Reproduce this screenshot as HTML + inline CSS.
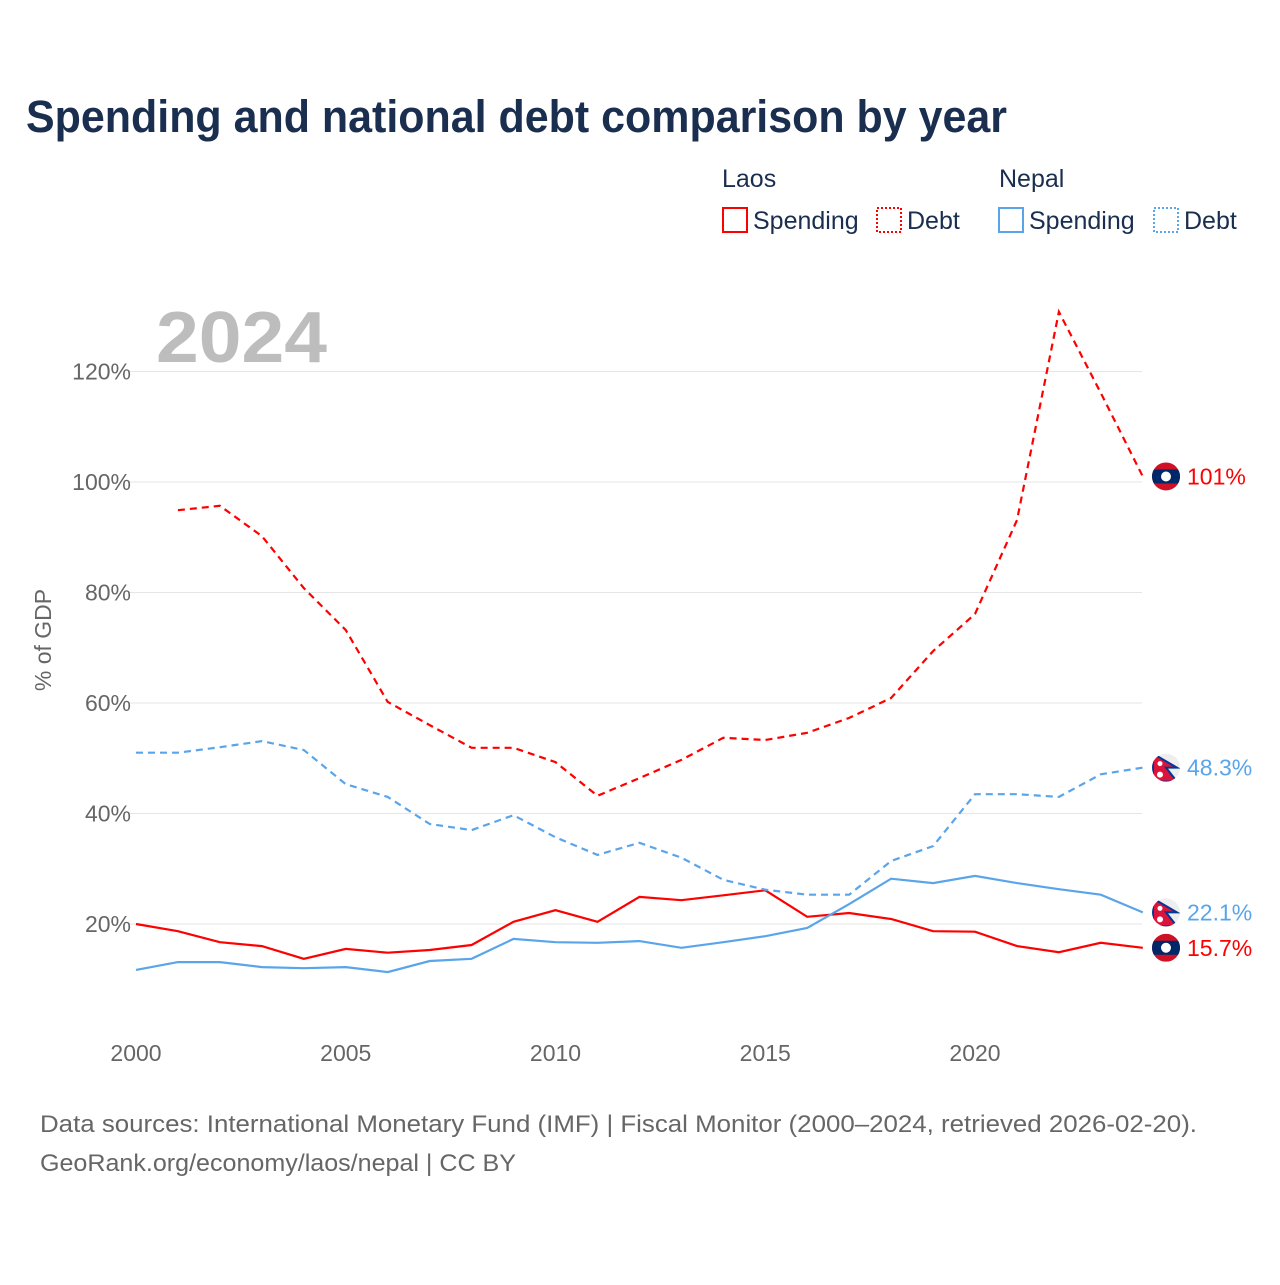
<!DOCTYPE html>
<html><head><meta charset="utf-8"><style>
body{margin:0;background:#fff;font-family:"Liberation Sans",sans-serif;}
svg text{font-family:"Liberation Sans",sans-serif;}
</style></head><body>
<svg id="chart" width="1280" height="1280" viewBox="0 0 1280 1280" xmlns="http://www.w3.org/2000/svg">
<defs><clipPath id="fc"><circle cx="0" cy="0" r="14"/></clipPath></defs>
<rect width="1280" height="1280" fill="#fff"/>
<text x="26" y="132" font-size="45" font-weight="bold" fill="#1a2e4f" textLength="981" lengthAdjust="spacingAndGlyphs">Spending and national debt comparison by year</text>
<g font-size="25" fill="#1a2e4f">
<text x="722" y="187" fill="#1a2e4f">Laos</text>
<text x="999" y="187" fill="#1a2e4f">Nepal</text>
<g><rect x="723" y="208" width="24" height="24" fill="none" stroke="#f00" stroke-width="2"/><text x="753" y="229" fill="#1a2e4f">Spending</text></g>
<g><rect x="877" y="208" width="24" height="24" fill="none" stroke="#f00" stroke-width="2" stroke-dasharray="2,2"/><text x="907" y="229" fill="#1a2e4f">Debt</text></g>
<g><rect x="999" y="208" width="24" height="24" fill="none" stroke="#5aa5ea" stroke-width="2"/><text x="1029" y="229" fill="#1a2e4f">Spending</text></g>
<g><rect x="1154" y="208" width="24" height="24" fill="none" stroke="#5aa5ea" stroke-width="2" stroke-dasharray="2,2"/><text x="1184" y="229" fill="#1a2e4f">Debt</text></g>
</g>
<text x="156" y="362" font-size="72" font-weight="bold" fill="#bdbdbd" textLength="171" lengthAdjust="spacingAndGlyphs">2024</text>
<text transform="translate(51,640) rotate(-90)" text-anchor="middle" font-size="23" fill="#666">% of GDP</text>
<g id="grid"></g><g id="series"></g><g id="labels"></g>
<g font-size="24" fill="#666">
<text x="40" y="1132" textLength="1157" lengthAdjust="spacingAndGlyphs">Data sources: International Monetary Fund (IMF) | Fiscal Monitor (2000–2024, retrieved 2026-02-20).</text>
<text x="40" y="1171" textLength="476" lengthAdjust="spacingAndGlyphs">GeoRank.org/economy/laos/nepal | CC BY</text>
</g>
</svg>
<script>
const years=[2000,2001,2002,2003,2004,2005,2006,2007,2008,2009,2010,2011,2012,2013,2014,2015,2016,2017,2018,2019,2020,2021,2022,2023,2024];
const laosDebt=[null,94.9,95.7,90.2,80.8,73.2,60.2,56,51.9,51.9,49.3,43.2,46.4,49.7,53.7,53.3,54.6,57.3,60.9,69.4,76.1,93.1,130.8,116.1,101];
const laosSpending=[20,18.7,16.7,16,13.7,15.5,14.8,15.3,16.2,20.4,22.5,20.4,24.9,24.3,25.2,26.1,21.3,22,20.9,18.7,18.6,16,14.9,16.6,15.7];
const nepalDebt=[51,51,52,53.1,51.5,45.3,43,38.1,37,39.7,35.7,32.5,34.7,32,28,26.2,25.3,25.3,31.4,34.1,43.5,43.5,43,47.1,48.3];
const nepalSpending=[11.7,13.1,13.1,12.2,12,12.2,11.3,13.3,13.7,17.3,16.7,16.6,16.9,15.7,16.7,17.8,19.3,23.6,28.2,27.4,28.7,27.4,26.3,25.3,22.1];
const yTicks=[20,40,60,80,100,120];
const xTicks=[2000,2005,2010,2015,2020];
const NS="http://www.w3.org/2000/svg";
const xS=y=>136+(y-2000)*41.95;
const yS=v=>1034.5-v*5.525;
function mk(t,a,p){const e=document.createElementNS(NS,t);for(const k in a)e.setAttribute(k,a[k]);p.appendChild(e);return e;}
const grid=document.getElementById('grid'),ser=document.getElementById('series'),lab=document.getElementById('labels');
yTicks.forEach(v=>{
 const l=mk('line',{x1:128,x2:1142,y1:yS(v),y2:yS(v),stroke:'#e6e6e6','stroke-width':1},grid);
 
 
 const t=mk('text',{x:131,y:yS(v)+8,'text-anchor':'end','font-size':23,fill:'#666'},grid);t.textContent=v+'%';
 
 
});
xTicks.forEach(y=>{
 const t=mk('text',{x:xS(y),y:1061,'text-anchor':'middle','font-size':23,fill:'#666'},grid);t.textContent=y;
 
 
});
function line(vals,color,dash,name){
 let d='';vals.forEach((v,i)=>{if(v==null)return;d+=(d?'L':'M')+xS(years[i]).toFixed(1)+','+yS(v).toFixed(1);});
 const p=mk('path',{d:d,fill:'none',stroke:color,'stroke-width':2.2},ser);
 if(dash)p.setAttribute('stroke-dasharray','7,5');
 
 
}
line(laosDebt,'#f00',true,'line-laos-debt');
line(laosSpending,'#f00',false,'line-laos-spending');
line(nepalDebt,'#5aa5ea',true,'line-nepal-debt');
line(nepalSpending,'#5aa5ea',false,'line-nepal-spending');
function endLabel(vals,color,country,name){
 const v=vals[vals.length-1],y=yS(v),cx=1166;
 const g=mk('g',{},lab);
 
 
 const f=mk('g',{transform:`translate(${cx},${y})`,'clip-path':'url(#fc)'},g);
 if(country==='laos'){
  mk('rect',{x:-14,y:-14,width:28,height:28,fill:'#ce1126'},f);
  mk('rect',{x:-14,y:-7,width:28,height:14,fill:'#002868'},f);
  mk('circle',{cx:0,cy:0,r:5,fill:'#fff'},f);
 } else {
  mk('rect',{x:-14,y:-14,width:28,height:28,fill:'#eee'},f);
  mk('path',{d:'M-13,-14 L11,0 L0,0 L11,14 L-13,14Z',fill:'#dc143c',stroke:'#003893','stroke-width':2},f);
  mk('circle',{cx:-6,cy:-4,r:2.5,fill:'#fff'},f);
  mk('circle',{cx:-6,cy:7,r:3,fill:'#fff'},f);
 }
 const t=mk('text',{x:1187,y:y+8,'font-size':23,fill:color},g);
 t.textContent=(v>=100?Math.round(v):v.toFixed(1))+'%';
}
endLabel(laosDebt,'#f00','laos','end-label-laos-debt');
endLabel(nepalDebt,'#5aa5ea','nepal','end-label-nepal-debt');
endLabel(nepalSpending,'#5aa5ea','nepal','end-label-nepal-spending');
endLabel(laosSpending,'#f00','laos','end-label-laos-spending');
</script>
</body></html>
